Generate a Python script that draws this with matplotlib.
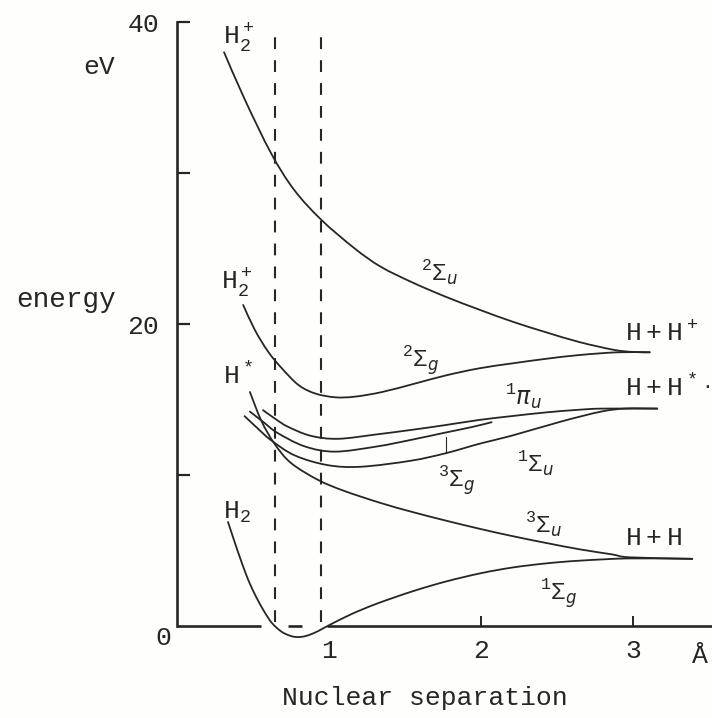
import matplotlib
matplotlib.use("Agg")
import matplotlib.pyplot as plt
import numpy as np
from matplotlib.path import Path
from matplotlib.patches import PathPatch

plt.rcParams["mathtext.fontset"] = "custom"
plt.rcParams["mathtext.rm"] = "Liberation Mono"
plt.rcParams["mathtext.it"] = "DejaVu Sans:italic"
plt.rcParams["mathtext.bf"] = "Liberation Mono:bold"
plt.rcParams["lines.scale_dashes"] = False

MONO = "Liberation Mono"
INK = "#262626"

# Potential energy curves of H2 / H2+ (separation in Angstrom, energy in eV)
h2p_u_x = [0.31, 0.445, 0.62, 0.77, 0.95, 1.17, 1.34, 1.55, 1.77, 1.99, 2.21, 2.43, 2.65, 2.87, 3.0, 3.11]
h2p_u_y = [38.0, 34.9, 31.3, 28.9, 26.9, 25.0, 23.8, 22.75, 21.8, 20.95, 20.15, 19.45, 18.8, 18.3, 18.15, 18.13]

h2p_g_x = [0.436, 0.513, 0.60, 0.69, 0.80, 0.91, 1.04, 1.17, 1.35, 1.57, 1.77, 1.99, 2.21, 2.43, 2.65, 2.90, 3.11]
h2p_g_y = [21.26, 19.6, 18.17, 17.07, 15.96, 15.4, 15.15, 15.19, 15.5, 16.07, 16.6, 17.07, 17.4, 17.7, 17.95, 18.13, 18.13]

pi_u_x = [0.566, 0.65, 0.73, 0.88, 1.06, 1.32, 1.55, 1.76, 1.99, 2.2, 2.43, 2.64, 2.8, 3.16]
pi_u_y = [14.3, 13.7, 13.2, 12.6, 12.4, 12.7, 13.0, 13.3, 13.65, 13.9, 14.15, 14.32, 14.4, 14.4]

sg3_x = [0.48, 0.57, 0.66, 0.84, 1.04, 1.32, 1.55, 1.76, 1.95, 2.07]
sg3_y = [14.2, 13.5, 12.8, 11.9, 11.55, 11.9, 12.35, 12.8, 13.2, 13.5]

su1_x = [0.445, 0.53, 0.62, 0.775, 0.99, 1.21, 1.54, 1.77, 2.0, 2.2, 2.53, 2.79, 2.95, 3.16]
su1_y = [13.9, 13.1, 12.3, 11.3, 10.66, 10.55, 10.95, 11.45, 12.1, 12.6, 13.55, 14.2, 14.4, 14.4]

su3_x = [0.48, 0.555, 0.64, 0.75, 0.93, 1.1, 1.34, 1.55, 1.77, 2.0, 2.21, 2.43, 2.65, 2.86, 2.98, 3.39]
su3_y = [15.5, 13.6, 12.1, 10.8, 9.67, 8.95, 8.15, 7.55, 6.98, 6.42, 5.95, 5.5, 5.08, 4.75, 4.55, 4.45]

sg1_x = [0.336, 0.38, 0.414, 0.45, 0.48, 0.52, 0.566, 0.6, 0.625, 0.66, 0.7, 0.75, 0.79, 0.84, 0.9,
         0.95, 1.0, 1.15, 1.32, 1.55, 1.77, 2.0, 2.21, 2.43, 2.65, 2.98, 3.39]
sg1_y = [6.89, 5.55, 4.55, 3.55, 2.8, 1.95, 1.1, 0.55, 0.2, -0.15, -0.45, -0.66, -0.73, -0.68, -0.47,
         -0.22, 0.05, 0.8, 1.5, 2.3, 2.95, 3.5, 3.88, 4.15, 4.33, 4.48, 4.45]

# Franck-Condon region boundaries
fc_bounds = [0.643, 0.95]

y_ticks = [10, 20, 30, 40]
y_ticklabels = ["", "20", "", "40"]
x_ticks = [1, 2, 3]
x_ticklabels = ["1", "2", "3"]


def smooth_path(xs, ys):
    """Catmull-Rom curve through the given points, as cubic Bezier segments."""
    pts = np.column_stack([xs, ys]).astype(float)
    verts = [pts[0]]
    codes = [Path.MOVETO]
    n = len(pts)
    for i in range(n - 1):
        p0 = pts[i - 1] if i > 0 else pts[i]
        p1, p2 = pts[i], pts[i + 1]
        p3 = pts[i + 2] if i + 2 < n else pts[i + 1]
        verts += [p1 + (p2 - p0) / 6.0, p2 - (p3 - p1) / 6.0, p2]
        codes += [Path.CURVE4] * 3
    return Path(verts, codes)


fig = plt.figure(figsize=(7.12, 7.18), dpi=100, facecolor="#fefefc")
ax = fig.add_axes([0, 0, 1, 1])
ax.set_facecolor("#fefefc")
ax.set_xlim(-1.164, 3.52)
ax.set_ylim(-6.09, 41.46)

for s in ["top", "right"]:
    ax.spines[s].set_visible(False)
ax.spines["left"].set_position(("data", 0))
ax.spines["left"].set_bounds(0, 40)
ax.spines["left"].set_linewidth(1.9)
ax.spines["left"].set_color(INK)
ax.spines["bottom"].set_position(("data", 0))
ax.spines["bottom"].set_visible(False)

ax.set_yticks(y_ticks, y_ticklabels, fontfamily=MONO, fontsize=19, color=INK)
ax.set_xticks(x_ticks, x_ticklabels, fontfamily=MONO, fontsize=19, color=INK)
ax.tick_params(axis="y", direction="in", length=9, width=1.6, color=INK, pad=13)
ax.tick_params(axis="x", direction="in", length=7, width=1.4, color=INK, pad=9)
ax.xaxis.get_major_ticks()[0].tick1line.set_visible(False)

# x axis drawn in pieces, broken where the H2 well dips below zero
for a, b in [(0.0, 0.55), (0.73, 0.82), (0.99, 3.52)]:
    ax.plot([a, b], [0, 0], color=INK, lw=1.9, solid_capstyle="butt")

curves = [(h2p_u_x, h2p_u_y), (h2p_g_x, h2p_g_y), (pi_u_x, pi_u_y), (sg3_x, sg3_y),
          (su1_x, su1_y), (su3_x, su3_y), (sg1_x, sg1_y)]
for cx, cy in curves:
    ax.add_patch(PathPatch(smooth_path(cx, cy), facecolor="none", edgecolor=INK,
                           lw=1.3, joinstyle="round", capstyle="round"))

for xb in fc_bounds:
    ax.plot([xb, xb], [0.3, 39.6], color=INK, lw=1.5, dashes=(8.5, 8))

# small pointer to the 3Σg curve
ax.plot([1.77, 1.77], [11.45, 12.5], color=INK, lw=0.8)

# axis annotations
ax.text(-0.09, -0.8, "0", fontfamily=MONO, fontsize=19, color=INK, ha="center", va="center")
ax.text(3.44, -2.0, "Å", fontfamily=MONO, fontsize=19, color=INK, ha="center", va="center")
ax.text(1.63, -4.75, "Nuclear separation", fontfamily=MONO, fontsize=19, color=INK,
        ha="center", va="center")
ax.text(-0.73, 21.6, "energy", fontfamily=MONO, fontsize=20, color=INK, ha="center", va="center")
ax.text(-0.51, 37.0, "eV", fontfamily=MONO, fontsize=19, color=INK, ha="center", va="center")

# molecule / dissociation labels
typed = dict(fontsize=19, color=INK, ha="left", va="center")
ax.text(0.303, 39.0, r"$\mathrm{H}_2^+$", **typed)
ax.text(0.29, 22.8, r"$\mathrm{H}_2^+$", **typed)
ax.text(0.303, 16.56, r"$\mathrm{H}^*$", **typed)
ax.text(0.303, 7.55, r"$\mathrm{H}_2$", **typed)
ax.text(2.95, 19.4, r"$\mathrm{H+H}^+$", **typed)
ax.text(2.95, 15.76, r"$\mathrm{H+H}^*$", **typed)
ax.text(2.95, 5.83, r"$\mathrm{H+H}$", **typed)
ax.text(3.485, 15.8, "·", fontfamily=MONO, fontsize=14, color=INK, ha="center", va="center")

# term symbols
hand = dict(fontsize=17, color=INK, ha="center", va="center")
ax.text(1.73, 23.4, r"$^2\Sigma_u$", **hand)
ax.text(1.6, 17.6, r"$^2\Sigma_g$", **hand)
ax.text(2.28, 15.2, r"$^1\pi_u$", **hand)
ax.text(2.36, 10.8, r"$^1\Sigma_u$", **hand)
ax.text(1.84, 9.67, r"$^3\Sigma_g$", **hand)
ax.text(2.41, 6.7, r"$^3\Sigma_u$", **hand)
ax.text(2.51, 2.2, r"$^1\Sigma_g$", **hand)

fig.savefig("out.png", dpi=100, facecolor=fig.get_facecolor())
